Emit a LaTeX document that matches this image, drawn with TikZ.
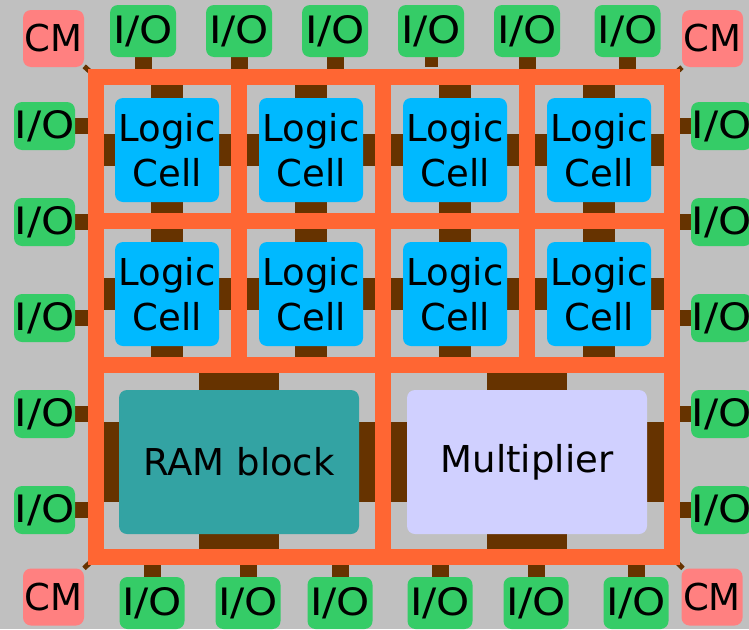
\documentclass[tikz,border=0pt]{standalone}
\usepackage{fontspec}
\setmainfont{DejaVu Sans}
\definecolor{bgc}{HTML}{C0C0C0}
\definecolor{orangec}{HTML}{FF6633}
\definecolor{brownc}{HTML}{663300}
\definecolor{cellc}{HTML}{00B9FF}
\definecolor{ioc}{HTML}{35CC67}
\definecolor{cmc}{HTML}{FF8080}
\definecolor{ramc}{HTML}{33A3A3}
\definecolor{mulc}{HTML}{D0D0FF}
\pgfdeclarelayer{bg}
\pgfsetlayers{bg,main}
\newcommand{\iotext}{\scalebox{1.14}[1.02]{I/O}}
\tikzset{
  txt/.style={inner sep=0pt, text=black, font=\fontsize{37}{45}\selectfont},
  lc/.style={txt, fill=cellc, rounded corners=8pt, minimum width=104pt, minimum height=104pt, align=center},
  io/.style={txt, fill=ioc, rounded corners=8pt, minimum width=66pt, minimum height=52pt},
  sideio/.style={io, minimum width=61pt, minimum height=48pt},
  cmbox/.style={txt, fill=cmc, rounded corners=8pt, minimum width=61pt, minimum height=57pt},
  bigblock/.style={txt, rounded corners=8pt, minimum width=240pt, minimum height=144pt},
  wire/.style={draw=brownc, line width=#1},
  gridline/.style={draw=orangec, line width=16pt}
}
\begin{document}
\begin{tikzpicture}[x=1pt,y=-1pt]
\useasboundingbox (0,0) rectangle (749,629);
% grid reference coordinates
\coordinate (h0) at (0,77);
\coordinate (h1) at (0,221);
\coordinate (h2) at (0,365);
\coordinate (h3) at (0,557);
\coordinate (v0) at (96,0);
\coordinate (v1) at (239,0);
\coordinate (v2) at (383,0);
\coordinate (v3) at (527,0);
\coordinate (v4) at (671.5,0);
% logic cells
\foreach \r/\y in {1/150,2/294}
  \foreach \c/\x in {1/167,2/311,3/455,4/599}
    \node[lc] (c\r\c) at (\x,\y) {Logic\\Cell};
% big blocks
\node[bigblock, fill=ramc] (ram) at (239,462) {RAM block};
\node[bigblock, fill=mulc] (mul) at (527,462) {Multiplier};
% I/O top
\foreach \i/\x in {1/143,2/239,3/335,4/431,5/527,6/627.5}
  \node[io] (t\i) at (\x,31) {\iotext};
% I/O bottom
\foreach \i/\x in {1/152,2/248,3/340,4/440,5/536,6/636}
  \node[io, minimum width=65pt] (b\i) at (\x,603) {\iotext};
% I/O left and right
\foreach \i/\y in {1/126,2/222,3/318,4/414,5/510}{
  \node[sideio] (l\i) at (44.5,\y) {\iotext};
  \node[sideio] (r\i) at (721.5,\y) {\iotext};
}
% corner CM
\node[cmbox] (cmtl) at (53.5,38.5) {CM};
\node[cmbox] (cmtr) at (712.5,38.5) {CM};
\node[cmbox] (cmbl) at (53.5,597) {CM};
\node[cmbox] (cmbr) at (712,597) {CM};

\begin{pgfonlayer}{bg}
  \fill[bgc] (0,0) rectangle (749,629);
  % cell stubs
  \foreach \r in {1,2}
    \foreach \c in {1,2,3,4}{
      \pgfmathtruncatemacro{\rt}{\r-1}
      \pgfmathtruncatemacro{\cl}{\c-1}
      \draw[wire=32pt] (c\r\c.north) -- (c\r\c.north |- h\rt);
      \draw[wire=32pt] (c\r\c.south) -- (c\r\c.south |- h\r);
      \draw[wire=32pt] (c\r\c.west) -- (c\r\c.west -| v\cl);
      \draw[wire=32pt] (c\r\c.east) -- (c\r\c.east -| v\c);
    }
  % big block stubs
  \draw[wire=80pt] (ram.north) -- (ram.north |- h2);
  \draw[wire=80pt] (ram.south) -- (ram.south |- h3);
  \draw[wire=80pt] (ram.west) -- (ram.west -| v0);
  \draw[wire=80pt] (ram.east) -- (ram.east -| v2);
  \draw[wire=80pt] (mul.north) -- (mul.north |- h2);
  \draw[wire=80pt] (mul.south) -- (mul.south |- h3);
  \draw[wire=80pt] (mul.west) -- (mul.west -| v2);
  \draw[wire=80pt] (mul.east) -- (mul.east -| v4);
  % I/O stubs
  \foreach \i in {1,2,3,5,6}
    \draw[wire=17pt] (t\i.south) -- (t\i.south |- h0);
  \draw[wire=13pt] (t4.south) -- ++(0,10);
  \foreach \i in {1,...,6}
    \draw[wire=17pt] (b\i.north) -- (b\i.north |- h3);
  \foreach \i in {1,...,5}{
    \draw[wire=16pt] (l\i.east) -- (l\i.east -| v0);
    \draw[wire=16pt] (r\i.west) -- (r\i.west -| v4);
  }
  % CM links
  \draw[wire=5pt] (cmtl) -- (v0 |- h0);
  \draw[wire=5pt] (cmtr) -- (v4 |- h0);
  \draw[wire=5pt] (cmbl) -- (v0 |- h3);
  \draw[wire=5pt] (cmbr) -- (v4 |- h3);
  % routing grid
  \draw[gridline, line join=miter] (v0 |- h0) rectangle (v4 |- h3);
  \draw[gridline] (v0 |- h1) -- (v4 |- h1);
  \draw[gridline] (v0 |- h2) -- (v4 |- h2);
  \draw[gridline] (v1 |- h0) -- (v1 |- h2);
  \draw[gridline] (v2 |- h0) -- (v2 |- h3);
  \draw[gridline] (v3 |- h0) -- (v3 |- h2);
\end{pgfonlayer}
\end{tikzpicture}
\end{document}
